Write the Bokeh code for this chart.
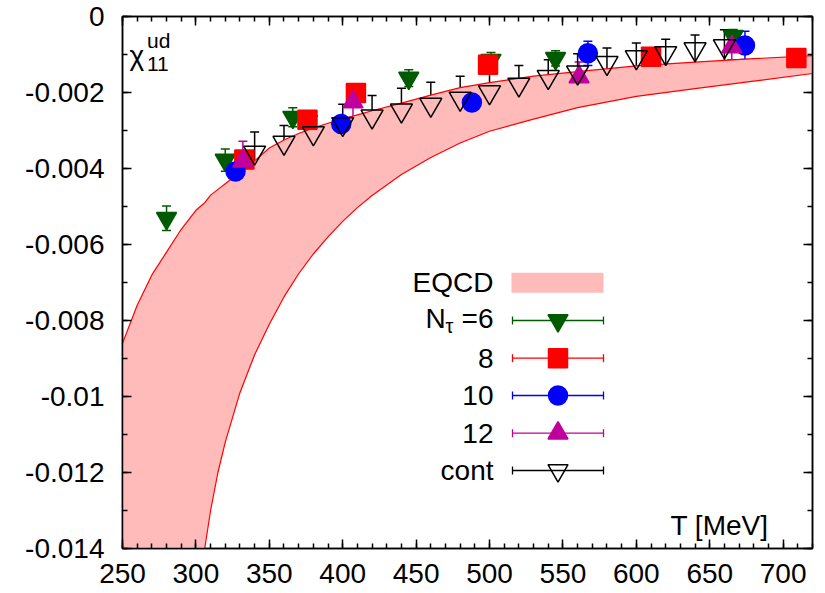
from bokeh.plotting import figure
from bokeh.models import (ColumnDataSource, Whisker, TeeHead, LinearAxis, Range1d,
                          SingleIntervalTicker, CustomJSTickFormatter, Label)
from bokeh.embed import file_html
from bokeh.resources import INLINE

# ---------------- data ----------------
T_band = [250, 260, 270, 280, 290, 300, 306, 310, 315, 320, 330, 340, 350, 360, 370, 380,
          390, 400, 410, 420, 440, 460, 480, 500, 530, 560, 600, 640, 680, 720]
eqcd_upper = [-0.0086, -0.0076, -0.0068, -0.0062, -0.0056, -0.0051, -0.0049, -0.0047,
              -0.00455, -0.0044, -0.0041, -0.0038, -0.00346, -0.00325, -0.00308, -0.00293,
              -0.00281, -0.00270, -0.00259, -0.00248, -0.00228, -0.00207, -0.00187,
              -0.00174, -0.00157, -0.00145, -0.00130, -0.00120, -0.00111, -0.00103]
eqcd_lower = [-0.0320, -0.0270, -0.0235, -0.0205, -0.0180, -0.0158, -0.0140, -0.0130,
              -0.0120, -0.0112, -0.0099, -0.0089, -0.0081, -0.00738, -0.00677, -0.00625,
              -0.00580, -0.00539, -0.00503, -0.00471, -0.00416, -0.00371, -0.00333,
              -0.00302, -0.0027, -0.0024, -0.0021, -0.0019, -0.0017, -0.0015]

nt6_T = [280, 320, 366, 445, 501, 545, 666]
nt6_v = [-0.00531, -0.00378, -0.00265, -0.00162, -0.00115, -0.00110, -0.00052]
nt6_e = [0.00032, 0.00029, 0.00025, 0.00022, 0.00020, 0.00020, 0.00018]

nt8_T = [333, 376, 409, 499, 610, 709]
nt8_v = [-0.00376, -0.00272, -0.00201, -0.00127, -0.00106, -0.00109]
nt8_e = [0.00020, 0.00012, 0.00012, 0.00012, 0.00010, 0.00010]

nt10_T = [327, 399, 488, 567, 674]
nt10_v = [-0.00408, -0.00283, -0.00226, -0.00097, -0.00076]
nt10_e = [0.00020, 0.00020, 0.00033, 0.00032, 0.00037]

nt12_T = [332, 407, 561, 665]
nt12_v = [-0.00381, -0.00225, -0.00159, -0.00080]
nt12_e = [0.00053, 0.00040, 0.00039, 0.00034]

cont_T = [340, 360, 380, 400, 420, 440, 460, 480, 500, 520, 540, 560, 580, 600, 620, 640, 660]
cont_v = [-0.00358, -0.00332, -0.00307, -0.00283, -0.00263, -0.00247, -0.00232, -0.00216,
          -0.00199, -0.00179, -0.00159, -0.00147, -0.00122, -0.00107, -0.00096, -0.00086,
          -0.00078]
cont_e = [0.00054, 0.00045, 0.00046, 0.00052, 0.00055, 0.00058, 0.00059, 0.00059, 0.00057,
          0.00050, 0.00045, 0.00049, 0.00039, 0.00037, 0.00036, 0.00037, 0.00043]

legend_labels = ["EQCD", "8", "10", "12", "cont"]

# ---------------- layout helpers (pixel layout -> data coords for annotations) ----------------
X0, X1, Y0, Y1 = 250, 720, -0.014, 0.0
FRAME_L, FRAME_T, FRAME_W, FRAME_H = 122.0, 16.0, 690.0, 532.0
TXT_SHIFT = -10  # pixel correction of text baselines


def fx(px):
    return X0 + (px - FRAME_L) / FRAME_W * (X1 - X0)


def fy(py):
    return Y1 - (py - FRAME_T) / FRAME_H * (Y1 - Y0)


def fyt(py):
    return fy(py + TXT_SHIFT)


def dyp(pix):
    return pix / FRAME_H * (Y1 - Y0)


FONT = "Liberation Sans"
FS = "28px"

GREEN = "#005a00"
RED = "#ff0000"
BLUE = "#0000ff"
MAG = "#c0009c"
PINK = "#ffbaba"

p = figure(width=817, height=593, x_range=Range1d(X0, X1), y_range=Range1d(Y0, Y1),
           output_backend="svg", toolbar_location=None,
           min_border_left=122, min_border_right=5, min_border_top=16, min_border_bottom=45)
p.background_fill_color = "white"
p.border_fill_color = "white"
p.outline_line_color = "black"
p.outline_line_width = 1.5
p.xgrid.visible = False
p.ygrid.visible = False

xb = p.below[0]
yl = p.left[0]
xt = LinearAxis()
yr = LinearAxis()
p.add_layout(xt, "above")
p.add_layout(yr, "right")

for ax, tick in [(xb, 'x'), (xt, 'x'), (yl, 'y'), (yr, 'y')]:
    if tick == 'x':
        ax.ticker = SingleIntervalTicker(interval=50, num_minor_ticks=5)
    else:
        ax.ticker = SingleIntervalTicker(interval=0.002, num_minor_ticks=2)
    ax.axis_line_color = "black"
    ax.axis_line_width = 1.5
    ax.major_tick_in = 9
    ax.major_tick_out = 0
    ax.minor_tick_in = 5
    ax.minor_tick_out = 0
    ax.major_tick_line_color = "black"
    ax.minor_tick_line_color = "black"
    ax.major_tick_line_width = 1.5
    ax.minor_tick_line_width = 1.5
    ax.major_label_text_font = FONT
    ax.major_label_text_font_size = FS
    ax.major_label_text_color = "black"

yl.formatter = CustomJSTickFormatter(code="return String(Number(tick.toFixed(4)))")
yl.major_label_standoff = 18
xb.major_label_standoff = 15
for ax in (xt, yr):
    ax.formatter = CustomJSTickFormatter(code="return ''")
    ax.major_label_standoff = 0

# ---------------- EQCD band ----------------
p.varea(x=T_band, y1=eqcd_lower, y2=eqcd_upper, fill_color=PINK)
p.line(T_band, eqcd_upper, line_color=RED, line_width=1.2)
p.line(T_band, eqcd_lower, line_color=RED, line_width=1.2)


def add_series(T, v, e, marker, color, fill, size):
    src = ColumnDataSource(dict(x=T, y=v, lo=[a - b for a, b in zip(v, e)],
                                hi=[a + b for a, b in zip(v, e)]))
    w = Whisker(source=src, base="x", lower="lo", upper="hi", dimension="height",
                line_color=color, line_width=1.5,
                upper_head=TeeHead(size=9, line_color=color, line_width=1.5),
                lower_head=TeeHead(size=9, line_color=color, line_width=1.5))
    p.add_layout(w)
    p.scatter("x", "y", source=src, marker=marker, size=size, line_color=color,
              fill_color=fill, line_width=1.5)


add_series(nt6_T, nt6_v, nt6_e, "inverted_triangle", GREEN, GREEN, 20)
add_series(nt8_T, nt8_v, nt8_e, "square", RED, RED, 19)
add_series(nt10_T, nt10_v, nt10_e, "circle", BLUE, BLUE, 19)
add_series(nt12_T, nt12_v, nt12_e, "triangle", MAG, MAG, 20)
add_series(cont_T, cont_v, cont_e, "inverted_triangle", "black", None, 22)

# ---------------- manual legend (labels left, samples right) ----------------
LX_TXT = fx(493)
LS0, LS1, LSM = fx(512), fx(603), fx(557.5)
rows_py = [282.3, 320, 357.7, 395, 432.7, 470]
base_off = 10

p.quad(left=[fx(511)], right=[fx(603)], top=[fy(272.3)], bottom=[fy(292.3)],
       fill_color=PINK, line_color=None)

styles = [("inverted_triangle", GREEN, GREEN), ("square", RED, RED),
          ("circle", BLUE, BLUE), ("triangle", MAG, MAG),
          ("inverted_triangle", "black", None)]
for (mk, col, fill), py in zip(styles, rows_py[1:]):
    yy = fy(py)
    p.segment(x0=[LS0], y0=[yy], x1=[LS1], y1=[yy], line_color=col, line_width=1.3)
    p.segment(x0=[LS0, LS1], y0=[yy - dyp(4), yy - dyp(4)], x1=[LS0, LS1],
              y1=[yy + dyp(4), yy + dyp(4)], line_color=col, line_width=1.3)
    p.scatter(x=[LSM], y=[yy], marker=mk, size=(19 if mk in ("circle", "square") else 20),
              line_color=col, fill_color=fill, line_width=1.5)


def txt(x, y, s, size=FS, align="left"):
    p.add_layout(Label(x=x, y=y, text=s, text_font=FONT, text_font_size=size,
                       text_align=align, text_baseline="alphabetic", text_color="black"))


# legend texts
txt(LX_TXT, fyt(rows_py[0] + base_off), legend_labels[0], align="right")
txt(fx(425), fyt(rows_py[1] + 8), "N")
txt(fx(445), fyt(rows_py[1] + 15), "τ", size="20px")
txt(LX_TXT, fyt(rows_py[1] + 8), "=6", align="right")
for lab, py in zip(legend_labels[1:], rows_py[2:]):
    txt(LX_TXT, fyt(py + base_off), lab, align="right")

# axis labels inside the frame
txt(fx(129), fyt(64.6), "χ")
txt(fx(146.5), fyt(73.3), "11", size="21px")
txt(fx(146.5), fyt(50), "ud", size="21px")
txt(fx(768), fyt(535), "T [MeV]", align="right")

open("out.html", "w").write(file_html(p, INLINE))
